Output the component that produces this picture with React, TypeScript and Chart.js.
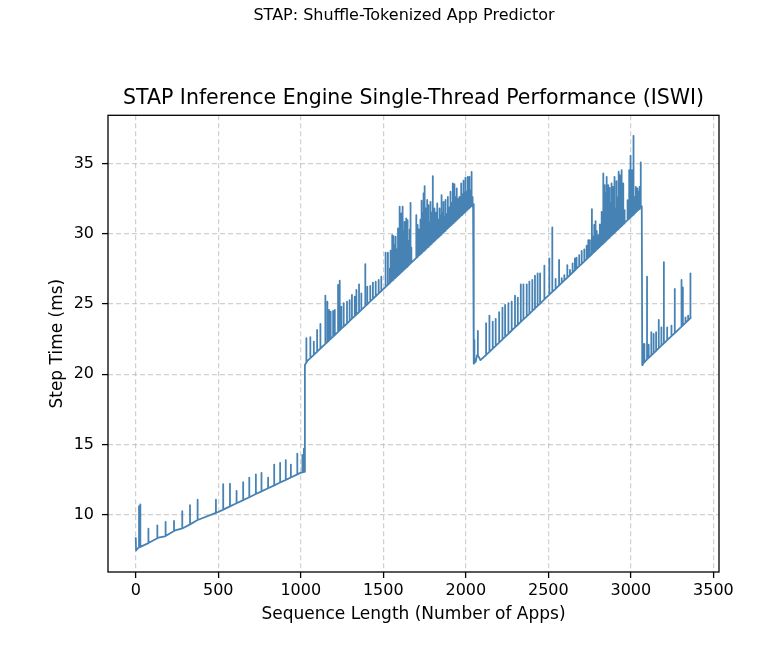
import React, { useEffect, useRef } from "react";
import { Chart, registerables } from "chart.js";

Chart.register(...registerables);

const SUPTITLE = "STAP: Shuffle-Tokenized App Predictor";
const TITLE = "STAP Inference Engine Single-Thread Performance (ISWI)";
const X_LABEL = "Sequence Length (Number of Apps)";
const Y_LABEL = "Step Time (ms)";

// Axis tick values and limits
const xTickValues = [0, 500, 1000, 1500, 2000, 2500, 3000, 3500];
const yTickValues = [10, 15, 20, 25, 30, 35];
const xLimits = [-168, 3534];
const yLimits = [5.92, 38.43];

// Baseline anchor readings (sequence length, step time in ms), including the jumps/drops
const baseX = [0, 2, 16, 77, 137, 177, 238, 278, 329, 379, 500, 998, 1023, 1025, 1040, 2044, 2047, 2049, 2060, 2068, 2078, 2088, 3066, 3069, 3080, 3366];
const baseY = [8.4, 7.45, 7.65, 7.98, 8.36, 8.45, 8.88, 9.0, 9.31, 9.64, 10.19, 12.98, 13.05, 20.66, 20.95, 32.09, 32.1, 20.75, 20.9, 21.35, 21.25, 21.0, 31.95, 20.65, 20.85, 24.05];

// Spikes: [sequence length, baseline step time, spike step time]
const spikesSeg1: [number, number, number][] = [
  [20, 7.67, 10.6], [28, 7.71, 10.74], [77, 7.98, 9.0], [131, 8.32, 9.24], [181, 8.48, 9.48],
  [232, 8.84, 9.55], [282, 9.02, 10.26], [329, 9.31, 10.67], [375, 9.62, 11.07], [486, 10.13, 11.07],
  [530, 10.36, 12.17], [571, 10.59, 12.21], [611, 10.81, 11.69], [651, 11.04, 12.31], [688, 11.24, 12.64],
  [728, 11.47, 12.86], [762, 11.66, 12.98], [802, 11.88, 12.64], [839, 12.09, 13.57], [875, 12.29, 13.69],
  [909, 12.48, 13.88], [940, 12.65, 13.57], [979, 12.87, 14.35], [1010, 13.02, 14.25], [1019, 13.04, 14.7],
];

const spikesSeg2: [number, number, number][] = [
  [1034, 20.83, 22.56], [1058, 21.15, 22.63], [1079, 21.38, 22.32], [1099, 21.6, 23.15], [1119, 21.83, 23.58],
  [1149, 22.16, 25.6], [1161, 22.29, 25.17], [1171, 22.4, 24.57], [1181, 22.52, 24.45], [1196, 22.68, 24.5],
  [1206, 22.79, 24.57], [1226, 23.01, 26.35], [1236, 23.13, 26.66], [1246, 23.24, 24.8], [1260, 23.39, 25.05],
  [1280, 23.61, 25.17], [1296, 23.79, 25.28], [1310, 23.95, 25.64], [1327, 24.14, 25.52], [1337, 24.25, 26.0],
  [1353, 24.42, 26.4], [1367, 24.58, 25.76], [1391, 24.85, 27.84], [1403, 24.98, 26.23], [1421, 25.18, 26.28],
  [1437, 25.36, 26.52], [1454, 25.55, 26.59], [1472, 25.75, 26.71], [1488, 25.92, 26.94], [1514, 26.21, 28.65],
  [1528, 26.37, 28.65], [1540, 26.5, 27.54], [1544, 26.55, 28.8], [1554, 26.66, 29.9], [1559, 26.72, 28.5],
  [1564, 26.77, 29.83], [1570, 26.83, 29.2], [1575, 26.89, 29.79], [1580, 26.94, 28.9], [1589, 27.04, 30.38],
  [1594, 27.1, 29.5], [1599, 27.15, 31.92], [1604, 27.21, 30.0], [1609, 27.27, 31.45], [1614, 27.32, 29.4],
  [1619, 27.38, 31.92], [1624, 27.43, 30.2], [1629, 27.49, 30.85], [1634, 27.54, 29.6], [1639, 27.6, 31.09],
  [1644, 27.65, 30.1], [1649, 27.71, 30.97], [1655, 27.77, 29.5], [1660, 27.83, 30.3], [1665, 27.89, 32.2],
  [1670, 27.94, 29.0], [1700, 28.28, 31.33], [1705, 28.34, 29.8], [1710, 28.39, 30.62], [1715, 28.45, 30.3],
  [1720, 28.5, 29.9], [1725, 28.56, 31.0], [1729, 28.6, 30.2], [1734, 28.65, 32.35], [1739, 28.71, 31.5],
  [1744, 28.76, 32.87], [1748, 28.8, 31.0], [1752, 28.85, 33.39], [1757, 28.9, 31.8], [1761, 28.95, 30.6],
  [1766, 29.01, 32.4], [1771, 29.06, 31.2], [1776, 29.12, 32.04], [1781, 29.17, 30.8], [1786, 29.23, 32.27],
  [1791, 29.28, 31.5], [1795, 29.33, 30.5], [1800, 29.39, 34.1], [1805, 29.44, 31.2], [1810, 29.5, 31.8],
  [1815, 29.55, 30.8], [1820, 29.61, 31.5], [1827, 29.69, 32.16], [1832, 29.74, 31.0], [1836, 29.78, 30.9],
  [1841, 29.84, 31.8], [1846, 29.89, 31.3], [1850, 29.94, 30.8], [1855, 30.0, 32.75], [1860, 30.05, 31.5],
  [1865, 30.11, 32.27], [1870, 30.16, 31.2], [1874, 30.21, 31.8], [1879, 30.26, 32.4], [1884, 30.32, 31.4],
  [1891, 30.4, 32.63], [1896, 30.45, 31.8], [1902, 30.52, 31.9], [1907, 30.57, 32.99], [1912, 30.63, 32.2],
  [1916, 30.67, 31.6], [1921, 30.73, 33.58], [1926, 30.78, 32.4], [1931, 30.84, 33.53], [1936, 30.89, 32.0],
  [1940, 30.94, 32.6], [1945, 31.0, 33.22], [1950, 31.05, 32.1], [1956, 31.12, 32.5], [1961, 31.17, 32.63],
  [1966, 31.23, 32.2], [1972, 31.3, 33.58], [1977, 31.35, 32.8], [1981, 31.39, 32.4], [1986, 31.45, 33.77],
  [1991, 31.5, 32.9], [1994, 31.54, 32.6], [1998, 31.58, 34.0], [2003, 31.64, 33.0], [2007, 31.68, 32.6],
  [2012, 31.74, 34.05], [2017, 31.79, 33.2], [2022, 31.85, 34.05], [2027, 31.9, 33.1], [2032, 31.96, 34.4],
  [2037, 32.01, 33.4], [2041, 32.05, 32.6],
];

const spikesSeg3: [number, number, number][] = [
  [2052, 20.8, 22.44], [2073, 21.3, 23.08], [2123, 21.37, 23.63], [2143, 21.59, 24.17], [2163, 21.82, 23.74],
  [2181, 22.02, 23.93], [2202, 22.25, 24.41], [2222, 22.48, 24.74], [2238, 22.66, 24.93], [2258, 22.88, 25.05],
  [2278, 23.11, 25.17], [2298, 23.33, 25.59], [2315, 23.52, 25.45], [2333, 23.72, 26.4], [2349, 23.9, 26.4],
  [2369, 24.12, 26.4], [2385, 24.3, 26.59], [2403, 24.51, 26.71], [2419, 24.68, 27.01], [2435, 24.86, 27.18],
  [2450, 25.03, 27.18], [2476, 25.32, 27.73], [2506, 25.66, 28.25], [2524, 25.86, 30.45], [2544, 26.08, 26.78],
  [2565, 26.32, 28.13], [2581, 26.5, 26.83], [2597, 26.68, 27.06], [2615, 26.88, 27.77], [2631, 27.06, 27.42],
  [2647, 27.24, 27.89], [2661, 27.4, 28.25], [2671, 27.51, 28.29], [2687, 27.69, 28.48], [2702, 27.85, 28.77],
  [2718, 28.03, 28.89], [2732, 28.19, 29.15], [2742, 28.3, 29.55], [2752, 28.41, 29.55], [2764, 28.55, 31.75],
  [2770, 28.62, 29.8], [2778, 28.71, 30.62], [2783, 28.77, 29.6], [2788, 28.82, 30.9], [2793, 28.88, 30.2],
  [2798, 28.93, 29.9], [2805, 29.01, 29.9], [2812, 29.09, 30.66], [2817, 29.15, 30.0], [2823, 29.21, 31.56],
  [2828, 29.26, 31.0], [2833, 29.32, 34.29], [2839, 29.39, 33.46], [2843, 29.44, 31.8], [2847, 29.48, 32.87],
  [2851, 29.53, 31.2], [2855, 29.57, 34.05], [2859, 29.62, 32.0], [2863, 29.66, 33.46], [2868, 29.72, 31.5],
  [2873, 29.77, 33.27], [2878, 29.83, 32.2], [2883, 29.88, 33.58], [2888, 29.94, 31.6], [2893, 29.99, 33.34],
  [2898, 30.05, 32.4], [2903, 30.11, 34.05], [2908, 30.16, 31.8], [2913, 30.22, 33.74], [2918, 30.27, 32.6],
  [2923, 30.33, 34.41], [2928, 30.39, 32.0], [2933, 30.44, 34.17], [2938, 30.5, 32.8], [2944, 30.56, 34.53],
  [2949, 30.62, 32.2], [2954, 30.68, 33.58], [2959, 30.73, 31.6], [2964, 30.79, 31.68], [2980, 30.97, 32.39],
  [2990, 31.08, 34.53], [2995, 31.14, 32.5], [3000, 31.19, 35.55], [3008, 31.28, 34.53], [3013, 31.34, 32.8],
  [3018, 31.39, 36.97], [3024, 31.46, 32.6], [3030, 31.53, 33.34], [3035, 31.59, 32.3], [3040, 31.64, 33.22],
  [3045, 31.7, 33.0], [3050, 31.75, 33.34], [3055, 31.81, 32.6], [3060, 31.86, 35.07],
];

const spikesSeg4: [number, number, number][] = [
  [3072, 20.7, 22.16], [3082, 20.87, 22.16], [3098, 21.05, 26.94], [3108, 21.16, 22.1], [3124, 21.34, 22.99],
  [3138, 21.5, 22.87], [3153, 21.67, 22.99], [3169, 21.85, 23.86], [3185, 22.03, 23.34], [3200, 22.19, 27.98],
  [3220, 22.42, 23.34], [3246, 22.71, 23.46], [3266, 22.93, 26.07], [3307, 23.39, 26.71], [3315, 23.48, 26.18],
  [3331, 23.66, 24.05], [3347, 23.84, 24.17], [3361, 24.0, 27.18],
];

const FONT = "'DejaVu Sans', sans-serif";
const LINE_COLOR = "#4682b4";
const GRID_COLOR = "rgba(176,176,176,0.6)";

function buildPoints() {
  type Ev = { x: number; ys: number[]; o: number };
  const evs: Ev[] = [];
  baseX.forEach((x, i) => evs.push({ x, ys: [baseY[i]], o: 0 }));
  [...spikesSeg1, ...spikesSeg2, ...spikesSeg3, ...spikesSeg4].forEach(([x, lo, hi]) =>
    evs.push({ x, ys: [lo, hi, lo], o: 1 })
  );
  evs.sort((a, b) => a.x - b.x || a.o - b.o);
  const pts: { x: number; y: number }[] = [];
  evs.forEach((e) => e.ys.forEach((y) => pts.push({ x: e.x, y })));
  return pts;
}

const framePlugin = {
  id: "frame",
  afterDatasetsDraw(chart: any) {
    const { ctx, chartArea } = chart;
    ctx.save();
    ctx.strokeStyle = "#000";
    ctx.lineWidth = 1.3;
    ctx.strokeRect(chartArea.left, chartArea.top, chartArea.right - chartArea.left, chartArea.bottom - chartArea.top);
    ctx.restore();
  },
};

export default function App() {
  const ref = useRef<HTMLCanvasElement | null>(null);
  useEffect(() => {
    if (!ref.current) return;
    const tickFont = { family: FONT, size: 16 };
    const labelFont = { family: FONT, size: 17 };
    const gridOpts = {
      color: GRID_COLOR,
      lineWidth: 1.2,
      drawTicks: true,
      tickLength: 6,
      tickWidth: 1.3,
      tickColor: "#000",
    };
    const chart = new Chart(ref.current, {
      type: "line",
      data: {
        datasets: [
          {
            data: buildPoints(),
            borderColor: LINE_COLOR,
            borderWidth: 1.8,
            pointRadius: 0,
            tension: 0,
            fill: false,
            borderJoinStyle: "round",
            yAxisID: "y",
          },
        ],
      },
      options: {
        responsive: false,
        animation: false,
        events: [],
        layout: { padding: { left: 36, right: 0, top: 0, bottom: 0 } },
        plugins: {
          legend: { display: false },
          tooltip: { enabled: false },
          title: {
            display: true,
            text: SUPTITLE,
            color: "#000",
            font: { family: FONT, size: 16, weight: "normal" },
            padding: { top: 6, bottom: 61 },
          },
          subtitle: {
            display: true,
            text: TITLE,
            fullSize: false,
            color: "#000",
            font: { family: FONT, size: 20.5, weight: "normal" },
            padding: { top: 0, bottom: 4.5 },
          },
        },
        scales: {
          x: {
            type: "linear",
            min: xLimits[0],
            max: xLimits[1],
            afterBuildTicks: (s: any) => {
              s.ticks = xTickValues.map((value) => ({ value }));
            },
            ticks: {
              autoSkip: false,
              maxRotation: 0,
              color: "#000",
              font: tickFont,
              padding: 3,
              callback: (v: any) => String(v),
            },
            grid: gridOpts,
            border: { display: false, dash: [5, 3] },
            title: {
              display: true,
              text: X_LABEL,
              color: "#000",
              font: labelFont,
              padding: { top: 0, bottom: 25 },
            },
            afterFit: (s: any) => {
              s.height = 78;
            },
          },
          y: {
            type: "linear",
            position: "left",
            min: yLimits[0],
            max: yLimits[1],
            afterBuildTicks: (s: any) => {
              s.ticks = yTickValues.map((value) => ({ value }));
            },
            ticks: {
              color: "#000",
              font: tickFont,
              padding: 8,
              callback: (v: any) => String(v),
            },
            grid: gridOpts,
            border: { display: false, dash: [5, 3] },
            title: {
              display: true,
              text: Y_LABEL,
              color: "#000",
              font: labelFont,
              padding: { top: 11, bottom: 0 },
            },
            afterFit: (s: any) => {
              s.width = 72;
            },
          },
          yRight: {
            type: "linear",
            position: "right",
            display: true,
            min: yLimits[0],
            max: yLimits[1],
            ticks: { display: false },
            grid: { display: false, drawTicks: false },
            border: { display: false },
            title: { display: false },
            afterFit: (s: any) => {
              s.width = 53;
            },
          },
        },
      } as any,
      plugins: [framePlugin],
    });
    return () => chart.destroy();
  }, []);
  return (
    <div style={{ position: "absolute", left: 0, top: 0, width: 772, height: 650, background: "#fff" }}>
      <canvas ref={ref} width={772} height={650} style={{ display: "block" }} />
    </div>
  );
}
